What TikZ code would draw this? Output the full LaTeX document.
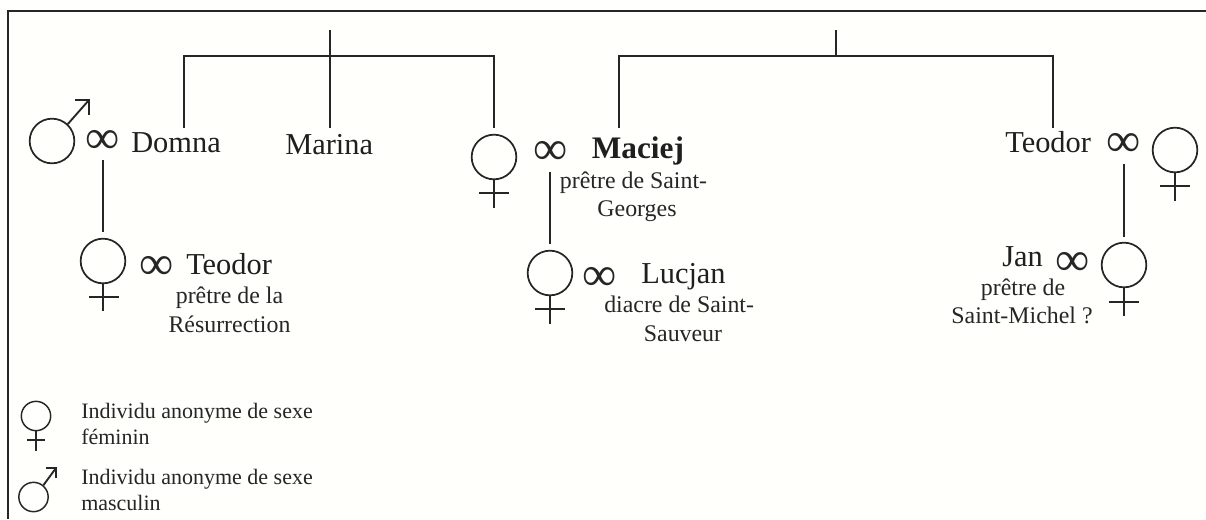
\documentclass[tikz,border=0pt]{standalone}
\usepackage{fontspec}
\setmainfont{Liberation Serif}
\newcommand{\fbig}{\fontsize{22.8}{26}\selectfont}
\newcommand{\fbold}{\fontsize{23.5}{28}\selectfont\bfseries}
\newcommand{\fsub}{\fontsize{17.9}{24}\selectfont}
\newcommand{\fleg}{\fontsize{16.5}{22}\selectfont}
\newcommand{\finf}{\fontsize{36}{36}\selectfont}
\begin{document}
\begin{tikzpicture}[x=0.75pt,y=-0.75pt,line cap=butt,
  ln/.style={line width=1.4pt,draw=black!85},
  frame/.style={line width=1.7pt,draw=black!85},
  ring/.style={circle,draw=black!85,line width=1.3pt,inner sep=0pt,minimum size=33.5pt},
  ringsmall/.style={circle,draw=black!85,line width=1.1pt,inner sep=0pt,minimum size=22pt},
  lab/.style={inner sep=0pt,anchor=base west,text=black!88},
  inf/.style={inner sep=0pt,anchor=center,text=black!85,font=\finf,yshift=-2.4pt},
  sub/.style={inner sep=0pt,anchor=base,align=center,text=black!85,font=\fsub},
  leg/.style={inner sep=0pt,anchor=base west,text=black!85,font=\fleg}]
\useasboundingbox (0,0) rectangle (1206,519);
\fill[white!99!yellow] (0,0) rectangle (1206,519);
\draw[frame] (8,519) |- (1206,11);

\coordinate (t1) at (330,30);
\coordinate (t2) at (836,30);
\coordinate (j1) at (330,56);
\coordinate (j2) at (836,56);

\node[lab,font=\fbig] (domna) at (131,152.5) {Domna};
\node[lab,font=\fbig] (marina) at (285,154) {Marina};
\node[lab,font=\fbold] (maciej) at (591.5,158.5) {Maciej};
\node[lab,font=\fbig] (teodorb) at (1005,152) {Teodor};
\coordinate (dtop) at (184,128);
\coordinate (mtop) at (330,128);
\coordinate (ftop) at (494,128);
\coordinate (mactop) at (619,128);
\coordinate (teotop) at (1053,128);

\draw[ln] (t1) -- (mtop);
\draw[ln] (dtop) |- (j1) -| (ftop);
\draw[ln] (t2) -- (j2);
\draw[ln] (mactop) |- (j2) -| (teotop);

% male 1
\node[ring] (m1) at (52,141) {};
\coordinate (m1tip) at (89,100);
\draw[ln] (m1.47) -- (m1tip);
\draw[ln] (75,100) -- (m1tip) -- (89,115);
\node[inf] (i1) at (103,139) {∞};

% child female 1
\node[ring] (f1) at (103,261) {};
\coordinate (f1b) at (103,311);
\draw[ln] (f1.south) -- (f1b);
\draw[ln] (89,297) -- (119,297);
\coordinate (d1) at (103,160);
\coordinate (d1b) at (103,232);
\draw[ln] (d1) -- (d1b);
\node[inf] (i2) at (157,265) {∞};
\node[lab,font=\fbig] (teodora) at (186,274) {Teodor};
\node[sub] (s1) at (229.5,303) {prêtre de la};
\node[sub] (s2) at (229.5,332) {Résurrection};

% Female middle
\node[ring] (f2) at (494,157) {};
\coordinate (f2b) at (494,208);
\draw[ln] (f2.south) -- (f2b);
\draw[ln] (479,193) -- (509,193);
\node[inf] (i3) at (551,150) {∞};
\node[sub] (s3) at (633.5,188) {prêtre de Saint-};
\node[sub] (s4) at (637,216) {Georges};
\coordinate (d3) at (550,172);
\coordinate (d3b) at (550,244);
\draw[ln] (d3) -- (d3b);

% Lucjan
\node[ring] (f3) at (550,273) {};
\coordinate (f3b) at (550,324);
\draw[ln] (f3.south) -- (f3b);
\draw[ln] (535,309) -- (565,309);
\node[inf] (i4) at (600,276) {∞};
\node[lab,font=\fbig] (lucjan) at (641,283) {Lucjan};
\node[sub,anchor=base west] (s5) at (604,312) {diacre de Saint-};
\node[sub] (s6) at (683,341) {Sauveur};

% Teodor right
\node[inf] (i5) at (1124,142) {∞};
\node[ring] (f4) at (1175,150) {};
\coordinate (f4b) at (1175,201);
\draw[ln] (f4.south) -- (f4b);
\draw[ln] (1160,186) -- (1190,186);
\coordinate (d5) at (1124,164);
\coordinate (d5b) at (1124,237);
\draw[ln] (d5) -- (d5b);

% Jan
\node[lab,font=\fbig] (jan) at (1002,266) {Jan};
\node[inf] (i6) at (1073,261) {∞};
\node[ring] (f5) at (1124,265) {};
\coordinate (f5b) at (1124,316);
\draw[ln] (f5.south) -- (f5b);
\draw[ln] (1109,302) -- (1139,302);
\node[sub] (s7) at (1023,295) {prêtre de};
\node[sub] (s8) at (1022,323) {Saint-Michel ?};

% legend
\node[ringsmall] (lf) at (36,416) {};
\coordinate (lfb) at (36,451);
\draw[ln] (lf.south) -- (lfb);
\draw[ln] (27,440) -- (45,440);
\node[leg] (l1) at (81,418) {Individu anonyme de sexe};
\node[leg] (l2) at (81,444) {féminin};
\node[ringsmall] (lm) at (33.5,497) {};
\coordinate (lmt) at (56,468);
\draw[ln] (lm.50) -- (lmt);
\draw[ln] (46,468) -- (lmt) -- (56,478);
\node[leg] (l3) at (81,484) {Individu anonyme de sexe};
\node[leg] (l4) at (81,510) {masculin};
\end{tikzpicture}
\end{document}
